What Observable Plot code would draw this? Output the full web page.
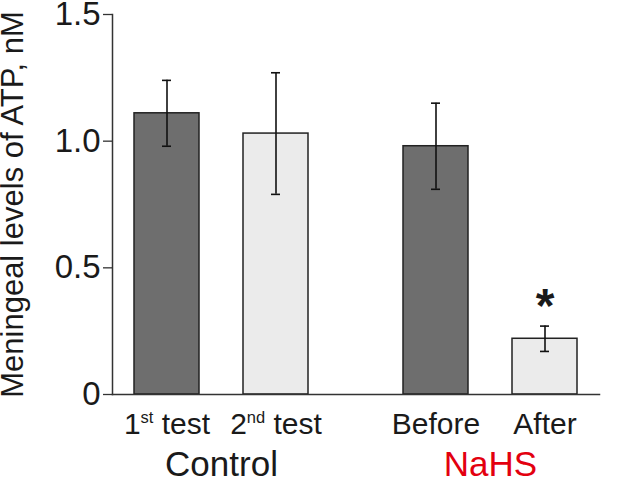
<!DOCTYPE html>
<html><head><meta charset="utf-8">
<script src="https://cdn.jsdelivr.net/npm/d3@7"></script>
<script src="https://cdn.jsdelivr.net/npm/@observablehq/plot@0.6"></script>
<style>
html,body{margin:0;padding:0;background:#fff;}
#chart svg{display:block;}
</style>
</head><body><div id="chart"></div>
<script>
// ---- data ----
const groups = ["Control", "NaHS"];
const groupColors = ["#1a1a1a", "#e3000f"];
const conditions = ["1st test", "2nd test", "Before", "After"];
const conditionGroup = ["Control", "Control", "NaHS", "NaHS"];
const meanATP = [1.11, 1.03, 0.98, 0.22];
const semATP = [0.13, 0.24, 0.17, 0.05];
const significance = ["", "", "", "*"];
const yTicks = [0, 0.5, 1.0, 1.5];
const yLabel = "Meningeal levels of ATP, nM";

const data = conditions.map((c, i) => ({
  cond: c,
  group: conditionGroup[i],
  rank: conditionGroup.slice(0, i).filter(g => g === conditionGroup[i]).length,
  mean: meanATP[i],
  lo: meanATP[i] - semATP[i],
  hi: meanATP[i] + semATP[i],
  sig: significance[i]
}));

const font = "'Liberation Sans', Arial, Helvetica, sans-serif";
const ink = "#1a1a1a";

const chart = Plot.plot({
  width: 630,
  height: 485,
  marginLeft: 112,
  marginRight: 22,
  marginTop: 14,
  marginBottom: 91,
  style: {fontFamily: font, color: ink, background: "#fff", overflow: "visible"},
  fx: {domain: groups, range: [112, 599], paddingInner: 0.19, paddingOuter: 0, axis: null, label: null},
  x: {domain: [0, 1], paddingInner: 0.4, paddingOuter: 0.2, axis: null},
  y: {domain: [0, 1.5], axis: null},
  color: {type: "ordinal", domain: [0, 1], range: ["#6e6e6e", "#ebebeb"]},
  marks: [
    Plot.barY(data, {fx: "group", x: "rank", y: "mean", fill: "rank", stroke: "#222", strokeWidth: 1.5}),
    Plot.ruleX(data, {fx: "group", x: "rank", y1: "lo", y2: "hi", stroke: "#111", strokeWidth: 1.6}),
    Plot.tickY(data, {fx: "group", x: "rank", y: "hi", insetLeft: 28, insetRight: 28, stroke: "#111", strokeWidth: 1.6}),
    Plot.tickY(data, {fx: "group", x: "rank", y: "lo", insetLeft: 28, insetRight: 28, stroke: "#111", strokeWidth: 1.6}),
    Plot.text(data.filter(d => d.sig), {fx: "group", x: "rank", y: "hi", text: "sig", dy: -19, fontSize: 48, fontWeight: "bold", lineAnchor: "middle", fill: ink}),
    Plot.axisY(yTicks, {tickSize: 9, tickPadding: 3, fontSize: 33, tickFormat: d => d === 0 ? "0" : d.toFixed(1), label: null, stroke: "#333", strokeWidth: 1.3}),
    Plot.frame({anchor: "left", facet: "super", stroke: "#333", strokeWidth: 1.5}),
    Plot.frame({anchor: "bottom", facet: "super", stroke: "#333", strokeWidth: 1.5}),
    Plot.text([yLabel], {facet: "super", frameAnchor: "left", text: d => d, rotate: -90, dx: -99, textAnchor: "middle", lineAnchor: "middle", fontSize: 31, fill: ink}),
    Plot.text(data, {fx: "group", x: "rank", text: "cond", frameAnchor: "bottom", lineAnchor: "top", dy: 18, fontSize: 30, fill: ink}),
    ...groups.map((g, i) => Plot.text([g], {fx: d => d, text: d => d, frameAnchor: "bottom", lineAnchor: "top", dy: 57, fontSize: 35, fill: groupColors[i]}))
  ]
});

// superscript ordinals (1st, 2nd)
d3.select(chart).selectAll("text").each(function() {
  const t = this.textContent;
  const m = /^(\d+)(st|nd|rd|th)(\s.*)$/.exec(t);
  if (!m || this.querySelector("tspan")) return;
  const el = d3.select(this);
  el.text(null);
  el.append("tspan").text(m[1]);
  el.append("tspan").attr("font-size", "55%").attr("dy", -11).text(m[2]);
  el.append("tspan").attr("dy", 11).text(m[3]);
});

document.getElementById("chart").appendChild(chart);
</script>
</body></html>
